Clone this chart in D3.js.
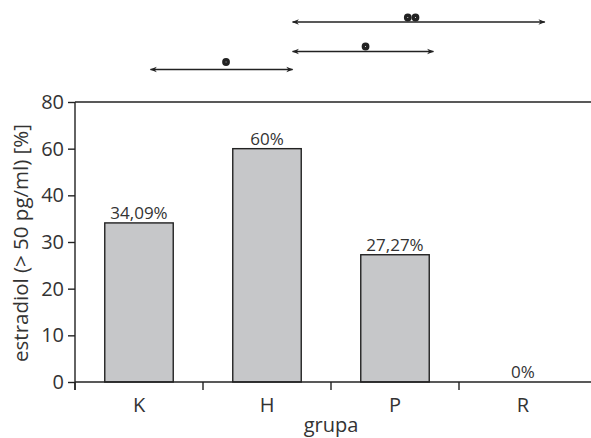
<!DOCTYPE html>
<html><head><meta charset="utf-8">
<script src="https://cdn.jsdelivr.net/npm/d3@7"></script>
<style>body{margin:0;background:#fff}svg{display:block}text{font-family:"Open Sans",sans-serif;fill:#333;font-weight:400}</style>
</head><body><svg id="c" width="591" height="438"></svg>
<script>
const categories = ["K", "H", "P", "R"];
const values = [34.09, 60, 27.27, 0];
const valueLabels = ["34,09%", "60%", "27,27%", "0%"];
const yTicks = [0, 10, 20, 30, 40, 60, 80];
// comparison arrows on top: start/end in group units, dot positions in group units
const compStart = [1.70, 1.70, 0.59];
const compEnd = [3.67, 2.80, 1.70];
const compDots = [[2.60, 2.66], [2.27], [1.18]];

const svg = d3.select("#c");
const x0 = 75, x1 = 587, yBase = 382, yTop = 102;
const x = d3.scaleBand().domain(categories).range([x0, x1]).paddingInner(0.465).paddingOuter(0.2325);
const xu = d3.scaleLinear().domain([0, 4]).range([x0, x1]);
const y = d3.scaleLinear().domain(yTicks).range(yTicks.map((d, i) => yBase - i * (yBase - yTop) / (yTicks.length - 1)));

// top border line
svg.append("line").attr("x1", x0).attr("x2", 591).attr("y1", yTop).attr("y2", yTop).attr("stroke", "#222").attr("stroke-width", 1.4);

// bars
svg.selectAll("rect.bar").data(categories).enter().append("rect")
  .attr("x", d => x(d)).attr("width", x.bandwidth())
  .attr("y", (d, i) => y(values[i])).attr("height", (d, i) => yBase - y(values[i]))
  .attr("fill", "#c6c7c9").attr("stroke", "#222").attr("stroke-width", 1.4)
  .style("display", (d, i) => values[i] > 0 ? null : "none");

// value labels
svg.selectAll("text.val").data(categories).enter().append("text")
  .attr("x", d => x(d) + x.bandwidth() / 2).attr("y", (d, i) => y(values[i]) - 4)
  .attr("text-anchor", "middle").attr("font-size", 17).text((d, i) => valueLabels[i]);

// y axis
const ya = svg.append("g").attr("transform", `translate(${x0},0)`)
  .call(d3.axisLeft(y).tickValues(yTicks).tickSize(7).tickPadding(4).tickFormat(d3.format("d")));
ya.select(".domain").remove();
ya.append("line").attr("x1", 0).attr("x2", 0).attr("y1", yTop).attr("y2", yBase + 8).attr("stroke", "#222").attr("stroke-width", 1.4);
ya.selectAll(".tick line").attr("stroke", "#222").attr("stroke-width", 1.4);
ya.selectAll(".tick text").attr("font-size", 20).attr("fill", "#333").attr("font-family", "'Open Sans',sans-serif");

// x axis
const xa = svg.append("g").attr("transform", `translate(0,${yBase})`);
xa.append("line").attr("x1", x0).attr("x2", 591).attr("y1", 0).attr("y2", 0).attr("stroke", "#222").attr("stroke-width", 1.4);
xa.selectAll("line.t").data(d3.range(4)).enter().append("line")
  .attr("x1", d => xu(d)).attr("x2", d => xu(d)).attr("y1", 0).attr("y2", 8).attr("stroke", "#222").attr("stroke-width", 1.4);
xa.selectAll("text.cat").data(categories).enter().append("text")
  .attr("x", d => x(d) + x.bandwidth() / 2).attr("y", 30).attr("text-anchor", "middle").attr("font-size", 20).text(d => d);

// axis titles
svg.append("text").attr("x", 331).attr("y", 432).attr("text-anchor", "middle").attr("font-size", 20).text("grupa");
svg.append("text").attr("transform", `translate(28,243) rotate(-90)`).attr("text-anchor", "middle").attr("font-size", 20.5).text("estradiol (> 50 pg/ml) [%]");

// comparison arrows
const defs = svg.append("defs");
defs.append("marker").attr("id", "ah").attr("viewBox", "0 0 10 10").attr("refX", 9).attr("refY", 5)
  .attr("markerWidth", 8).attr("markerHeight", 7).attr("markerUnits", "userSpaceOnUse").attr("orient", "auto-start-reverse")
  .append("path").attr("d", "M0,1 L10,5 L0,9 L3,5 Z").attr("fill", "#222");
const compY = [22, 51.5, 69.5];
const dotY = [17.5, 46.5, 62];
compStart.forEach((s, i) => {
  svg.append("line").attr("x1", xu(s)).attr("x2", xu(compEnd[i])).attr("y1", compY[i]).attr("y2", compY[i])
    .attr("stroke", "#222").attr("stroke-width", 1.4)
    .attr("marker-start", "url(#ah)").attr("marker-end", "url(#ah)");
  compDots[i].forEach(dv => {
    svg.append("circle").attr("cx", xu(dv)).attr("cy", dotY[i]).attr("r", 2.2)
      .attr("fill", "#fff").attr("stroke", "#222").attr("stroke-width", 3.4);
  });
});
</script></body></html>
